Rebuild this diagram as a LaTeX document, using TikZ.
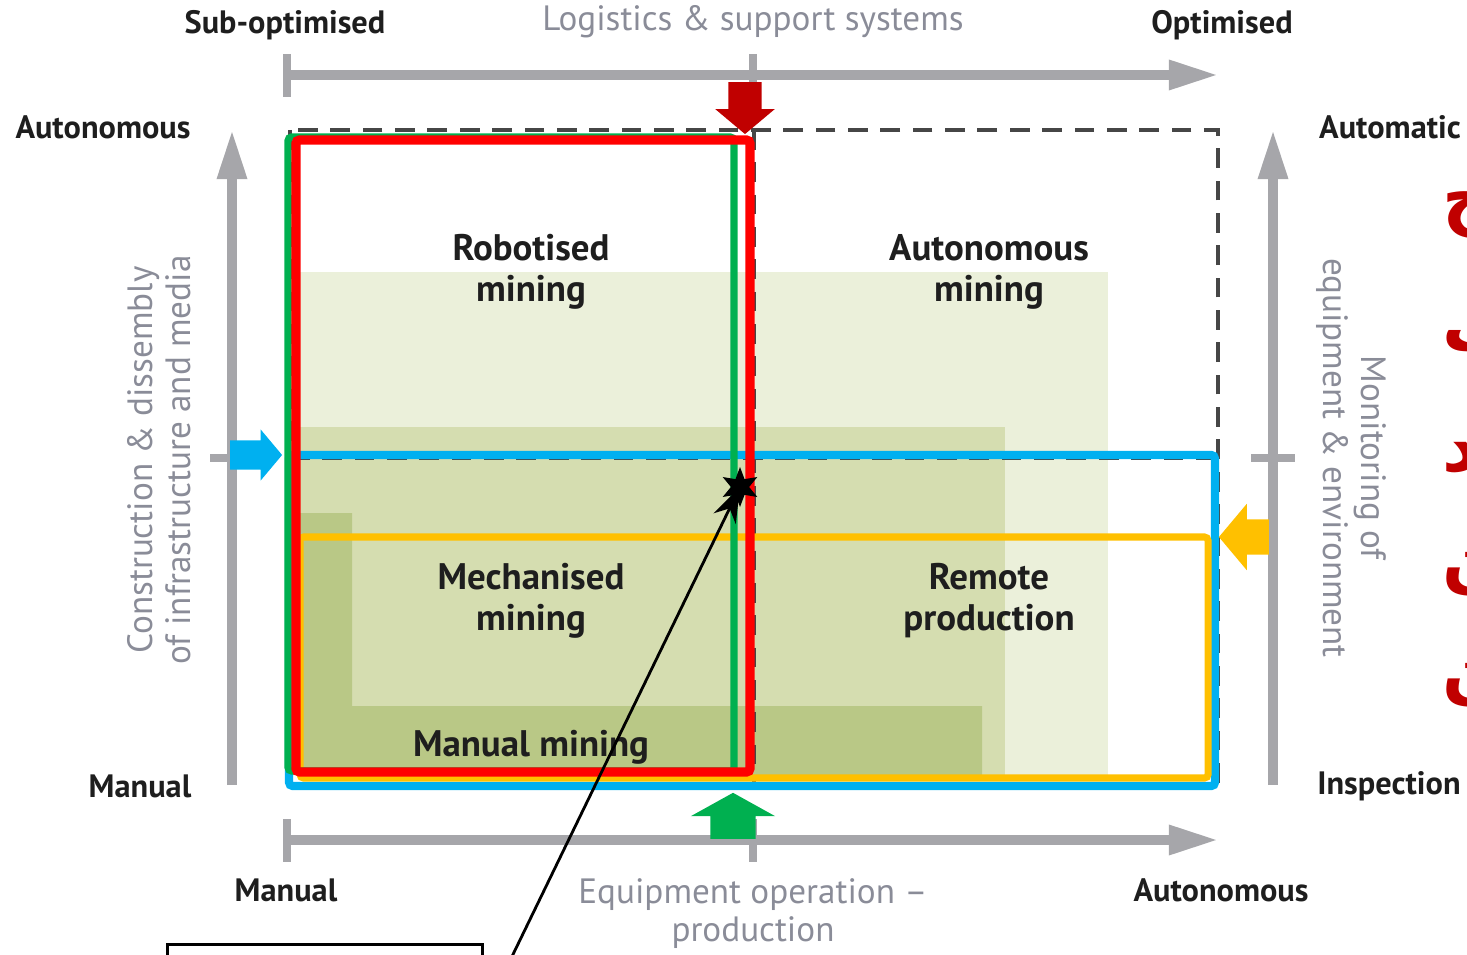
\documentclass[tikz,border=0pt]{standalone}
\usepackage{fontspec}
\setmainfont{PT Sans}
\newfontfamily\arabicfont[Script=Arabic]{DejaVu Sans}
\TeXXeTstate=1
\usepackage{tikz}
\usetikzlibrary{shapes.geometric,shapes.arrows}
\usetikzlibrary{arrows.meta}
\usetikzlibrary{positioning,calc}
\definecolor{axisGrey}{RGB}{166,166,170}
\definecolor{titleGrey}{RGB}{138,140,152}
\definecolor{labelDark}{RGB}{30,30,30}
\definecolor{dashGrey}{RGB}{70,70,70}
\definecolor{redLine}{RGB}{255,0,0}
\definecolor{darkRed}{RGB}{192,0,0}
\definecolor{greenLine}{RGB}{0,176,80}
\definecolor{blueLine}{RGB}{0,176,240}
\definecolor{yellowLine}{RGB}{255,192,0}
\definecolor{shadeOne}{RGB}{235,240,218}
\definecolor{shadeTwo}{RGB}{213,221,176}
\definecolor{shadeThree}{RGB}{185,200,134}
\tikzset{
    axisLine/.style={
        ,   draw=axisGrey
        ,   line width=2.6pt
        ,   -{Triangle[length=14pt,width=8pt]}
    },
    tickLine/.style={
        ,   draw=axisGrey
        ,   line width=2.4pt
    },
    endLabel/.style={ % bold text at the axis ends
        ,   text=labelDark
        ,   font={\fontsize{9.2}{11}\selectfont\bfseries}
        ,   inner sep=0pt
    },
    axisTitle/.style={
        ,   text=titleGrey
        ,   font={\fontsize{10}{10.8}\selectfont}
        ,   align=center
        ,   inner sep=0pt
    },
    fieldLabel/.style={
        ,   text=labelDark
        ,   font={\fontsize{10.5}{11.7}\selectfont\bfseries}
        ,   align=center
        ,   inner sep=0pt
    },
    frameDash/.style={
        ,   draw=dashGrey
        ,   line width=0.9pt
        ,   dash pattern=on 5.6pt off 3.6pt
    },
    zoneBox/.style={
        ,   draw=#1
        ,   rounded corners=1pt
    },
    blockArrow/.style={
        ,   single arrow
        ,   fill=#1
        ,   draw=none
        ,   inner xsep=0pt
        ,   anchor=tip
        ,   single arrow tip angle=100
    },
    arabicMark/.style={
        ,   text=darkRed
        ,   font={\arabicfont\bfseries\fontsize{20}{22}\selectfont}
        ,   inner sep=0pt
        ,   anchor=west
    }
}
\begin{document}
\begin{tikzpicture}[x=0.01cm, y=-0.01cm]
    \useasboundingbox (0,0) rectangle (1467,955);
    % shaded fields
    \fill[shadeOne] (290,272) rectangle (1108,775);
    \fill[shadeTwo] (290,427) rectangle (1005,775);
    \fill[shadeThree] (290,513) -- (352,513) -- (352,706) -- (982,706) -- (982,775) -- (290,775) -- cycle;

    % quadrant frame
    \coordinate (frameTL) at (290,130);
    \coordinate (frameBR) at (1218,785);
    \draw[frameDash] (frameTL) rectangle (frameBR);
    \draw[frameDash] (290,458) -- (1218,458);
    \draw[frameDash] (754,130) -- (754,785);

    % axes
    \coordinate (topStart) at (287,75);
    \coordinate (topEnd) at (1218,75);
    \coordinate (botStart) at (287,840);
    \coordinate (botEnd) at (1218,840);
    \coordinate (leftStart) at (232,785);
    \coordinate (leftEnd) at (232,130);
    \coordinate (rightStart) at (1273,785);
    \coordinate (rightEnd) at (1273,130);
    \draw[axisLine] (topStart) -- (topEnd);
    \draw[axisLine] (botStart) -- (botEnd);
    \draw[axisLine] (leftStart) -- (leftEnd);
    \draw[axisLine] (rightStart) -- (rightEnd);
    \foreach \x in {287,753}{
        \draw[tickLine] (\x,54) -- (\x,97);
        \draw[tickLine] (\x,819) -- (\x,862);
    }
    \draw[tickLine] (210,458) -- (255,458);
    \draw[tickLine] (1251,458) -- (1295,458);

    % zones
    \draw[zoneBox=blueLine, line width=2.3pt] (289,455) rectangle (1215,786);
    \draw[zoneBox=yellowLine, line width=2pt] (300,537) rectangle (1208,778);
    \draw[zoneBox=greenLine, line width=2pt] (288,137) rectangle (734,771);
    \draw[zoneBox=redLine, line width=2.6pt] (296,140) rectangle (750,772);

    % block arrows
    \node[blockArrow=darkRed, rotate=-90, minimum height=0.52cm, inner ysep=0.16cm, single arrow head extend=0.13cm] (logArrow) at (745,135) {};
    \node[blockArrow=greenLine, rotate=90, minimum height=0.46cm, inner ysep=0.22cm, single arrow head extend=0.195cm, single arrow tip angle=122] (equipArrow) at (733,792) {};
    \node[blockArrow=blueLine, minimum height=0.52cm, inner ysep=0.14cm, single arrow head extend=0.11cm] (constArrow) at (283,455) {};
    \node[blockArrow=yellowLine, rotate=180, minimum height=0.50cm, inner ysep=0.17cm, single arrow head extend=0.155cm] (monArrow) at (1218,537) {};

    % axis labels
    \node[endLabel] (subOpt) at (285,25) {Sub-optimised};
    \node[endLabel] (opt) at (1222,25) {Optimised};
    \node[axisTitle] (logTitle) at (753,22) {Logistics \& support systems};
    \node[endLabel] (leftTop) at (103,127) {Autonomous};
    \node[endLabel] (leftBot) at (140,786) {Manual};
    \node[endLabel] (rightTop) at (1390,127) {Automatic};
    \node[endLabel] (rightBot) at (1389,786) {Inspection};
    \node[endLabel] (botLeft) at (286,890) {Manual};
    \node[endLabel] (botRight) at (1221,890) {Autonomous};
    \node[axisTitle] (equipTitle) at (753,914) {Equipment operation --\\production};
    \node[axisTitle, rotate=90] (constTitle) at (159,460) {Construction \& dissembly\\of infrastructure and media};
    \node[axisTitle, rotate=-90] (monTitle) at (1351,458) {Monitoring of\\equipment \& environment};

    % field labels
    \node[fieldLabel] (robot) at (531,272) {Robotised\\mining};
    \node[fieldLabel] (autoMin) at (989,272) {Autonomous\\mining};
    \node[fieldLabel] (mech) at (531,601) {Mechanised\\mining};
    \node[fieldLabel] (remote) at (989,601) {Remote\\production};
    \node[fieldLabel] (manualMin) at (531,747) {Manual mining};

    % marker and callout
    \node[star, star points=6, star point ratio=2.2, fill=black, inner sep=0pt, minimum size=0.4cm] (hit) at (740,487) {};
    \node[draw=black, line width=0.9pt, anchor=north west, minimum width=3.15cm, minimum height=0.5cm] (note) at (166,943) {};
    \coordinate (callout) at (503,975);
    \draw[black, line width=0.8pt, -{Stealth[length=10pt,width=7pt]}] (callout) -- (hit.center);

    % cut-off letters at the right edge
    \foreach \y/\ch in {215/ج,345/ب,458/د,574/ن,685/ن}{
        \node[arabicMark] at (1442,\y) {\beginR\ch\endR};
    }
\end{tikzpicture}
\end{document}
